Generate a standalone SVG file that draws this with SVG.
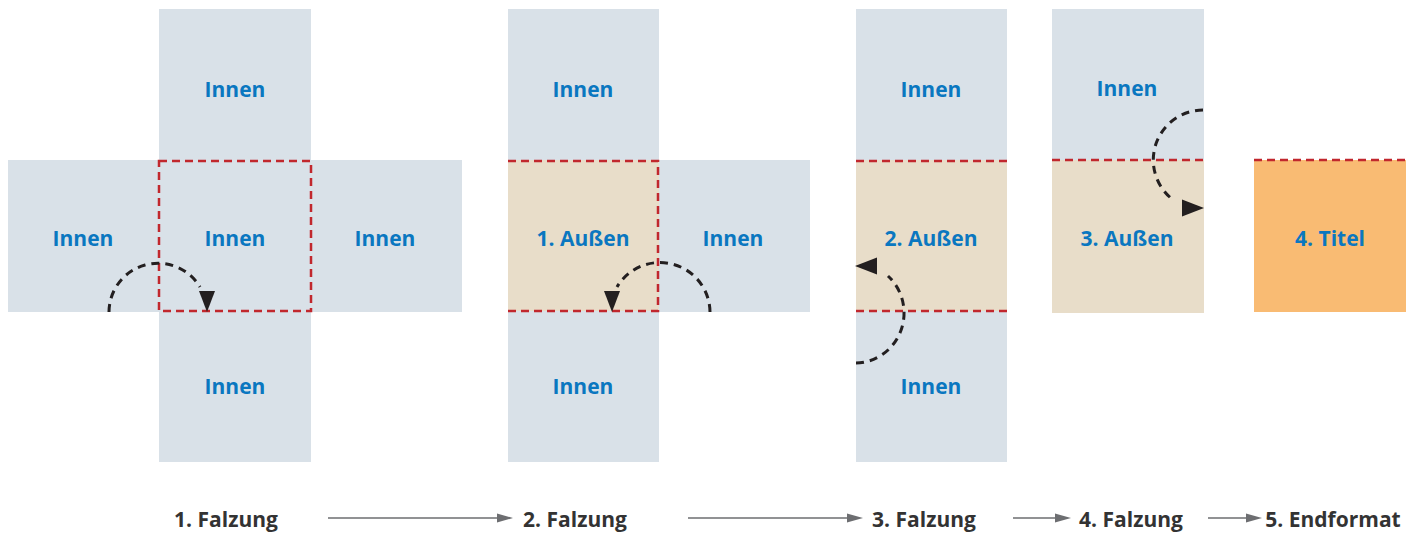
<svg xmlns="http://www.w3.org/2000/svg" width="1418" height="534" viewBox="0 0 1418 534">
<style>
.g{fill:#d9e1e8}
.t{fill:#e8ddc9}
.o{fill:#f9bb73}
.lbl{font-family:"Open Sans","Noto Sans",sans-serif;font-weight:700;font-size:21px;fill:#0a77c0;text-anchor:middle}
.cap{font-family:"Open Sans","Noto Sans",sans-serif;font-weight:700;font-size:21px;fill:#333333;text-anchor:middle}
.fold{fill:none;stroke:#c1272d;stroke-width:2.5;stroke-dasharray:8 5}
.arc{fill:none;stroke:#231f20;stroke-width:3;stroke-dasharray:8 6}
.head{fill:#231f20}
.step{stroke:#6d6e71;stroke-width:1.3;fill:none}
.stephead{fill:#6d6e71}
</style>
<g id="panel1">
<rect class="g" x="159" y="9" width="152" height="151"/>
<rect class="g" x="8" y="160" width="454" height="152"/>
<rect class="g" x="159" y="311" width="152" height="151"/>
<rect class="fold" x="159" y="161" width="152" height="150"/>
<text class="lbl" x="235" y="97">Innen</text>
<text class="lbl" x="83" y="246">Innen</text>
<text class="lbl" x="235" y="246">Innen</text>
<text class="lbl" x="385" y="246">Innen</text>
<text class="lbl" x="235" y="394">Innen</text>
</g>
<g id="panel2">
<rect class="g" x="508" y="9" width="151" height="151"/>
<rect class="t" x="508" y="160" width="151" height="152"/>
<rect class="g" x="659" y="160" width="151" height="152"/>
<rect class="g" x="508" y="311" width="151" height="151"/>
<path class="fold" d="M508,161 H658 V311 H508"/>
<text class="lbl" x="583" y="97">Innen</text>
<text class="lbl" x="583" y="246">1. Außen</text>
<text class="lbl" x="733" y="246">Innen</text>
<text class="lbl" x="583" y="394">Innen</text>
</g>
<g id="panel3">
<rect class="g" x="856" y="9" width="151" height="151"/>
<rect class="t" x="856" y="160" width="151" height="152"/>
<rect class="g" x="856" y="311" width="151" height="151"/>
<path class="fold" d="M856,161 H1007 M856,311 H1007"/>
<text class="lbl" x="931" y="97">Innen</text>
<text class="lbl" x="931" y="246">2. Außen</text>
<text class="lbl" x="931" y="394">Innen</text>
</g>
<g id="panel4">
<rect class="g" x="1052" y="9" width="152" height="151"/>
<rect class="t" x="1052" y="160" width="152" height="153"/>
<path class="fold" d="M1052,160 H1204"/>
<text class="lbl" x="1127" y="96">Innen</text>
<text class="lbl" x="1127" y="246">3. Außen</text>
</g>
<g id="panel5">
<rect class="o" x="1254" y="160" width="152" height="152"/>
<path class="fold" d="M1254,160 H1406"/>
<text class="lbl" x="1330" y="246">4. Titel</text>
</g>
<g id="connectors">
<path class="arc" d="M109,312 A49,49 0 0 1 200,287"/>
<polygon class="head" points="199,291 215,291 207,312"/>
<path class="arc" d="M710,312 A50,50 0 0 0 617,287"/>
<polygon class="head" points="604,291 620,291 612,312"/>
<path class="arc" d="M856,363 A49,50 0 0 0 888,276"/>
<polygon class="head" points="855,266 877,257.5 877,274.5"/>
<path class="arc" d="M1203,110 A50,50 0 0 0 1172,199"/>
<polygon class="head" points="1204,208 1182,199.5 1182,216.5"/>
<line class="step" x1="328" y1="518" x2="500" y2="518"/>
<polygon class="stephead" points="513,518 497,513.5 497,522.5"/>
<line class="step" x1="688" y1="518" x2="850" y2="518"/>
<polygon class="stephead" points="863,518 847,513.5 847,522.5"/>
<line class="step" x1="1013" y1="518" x2="1058" y2="518"/>
<polygon class="stephead" points="1071,518 1055,513.5 1055,522.5"/>
<line class="step" x1="1208" y1="518" x2="1249" y2="518"/>
<polygon class="stephead" points="1262,518 1246,513.5 1246,522.5"/>
</g>
<g id="captions">
<text class="cap" x="226" y="527">1. Falzung</text>
<text class="cap" x="575" y="527">2. Falzung</text>
<text class="cap" x="924" y="527">3. Falzung</text>
<text class="cap" x="1131" y="527">4. Falzung</text>
<text class="cap" x="1333" y="527">5. Endformat</text>
</g>
</svg>
